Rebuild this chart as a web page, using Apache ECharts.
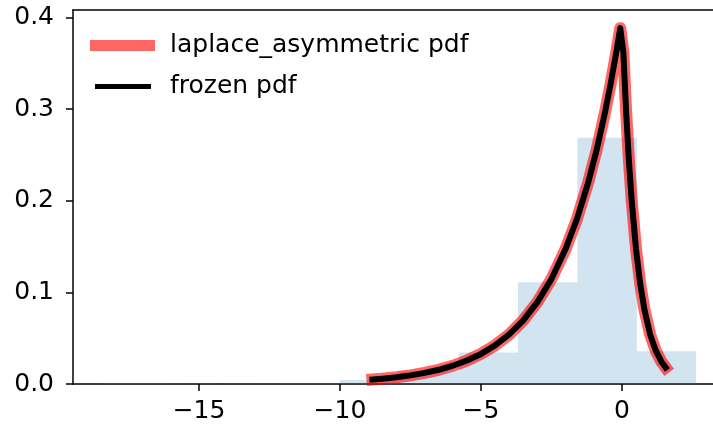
<!DOCTYPE html>
<html lang="en">

<head>
    <meta charset="UTF-8">
    <title>laplace_asymmetric pdf</title>
    <style>
        html, body { margin: 0; padding: 0; background: #fff; }
        #chart { width: 713px; height: 426px; }
    </style>
</head>

<body>
    <div id="chart"></div>
</body>
<script src="https://cdn.jsdelivr.net/npm/echarts@6/dist/echarts.min.js"></script>
<script type="text/javascript">
    // pdf curve
    var curveX = [-8.85, -8.5, -8.0, -7.5, -7.0, -6.5, -6.0, -5.5, -5.0, -4.5, -4.0, -3.5, -3.0, -2.5, -2.0, -1.6, -1.2, -0.9, -0.6, -0.4, -0.2, -0.06,
        0.05, 0.15, 0.25, 0.35, 0.5, 0.65, 0.8, 1.0, 1.2, 1.4, 1.55];
    var curveY = [0.0048, 0.0057, 0.0073, 0.0094, 0.0121, 0.0155, 0.0199, 0.0256, 0.0328, 0.0422, 0.0541, 0.0695, 0.0893, 0.1146, 0.1472, 0.1797, 0.2195, 0.2550, 0.2963, 0.3275, 0.3619, 0.3882,
        0.3619, 0.2963, 0.2426, 0.1986, 0.1472, 0.1090, 0.0808, 0.0541, 0.0363, 0.0243, 0.0180];

    // histogram (density), bin edges + heights
    var binEdges = [-18.42, -16.32, -14.21, -12.11, -10.00, -7.90, -5.79, -3.69, -1.58, 0.53, 2.63];
    var binDensity = [0.0005, 0, 0.0005, 0.0010, 0.0044, 0.0140, 0.0345, 0.1110, 0.2686, 0.0356];

    var xTicks = [-15, -10, -5, 0];
    var yTicks = [0, 0.1, 0.2, 0.3, 0.4];

    var FONT = 'DejaVu Sans';
    var FS = 25;

    var curve = curveX.map(function (x, i) { return [x, curveY[i]]; });
    var hist = binDensity.map(function (d, i) { return [binEdges[i], d]; });
    hist.push([binEdges[binEdges.length - 1], binDensity[binDensity.length - 1]]);

    var myChart = echarts.init(document.getElementById('chart'));

    // the right spine sits just past the picture edge, so the axis stops at 3.23
    myChart.setOption({
        animation: false,
        grid: {
            left: 73,
            top: 10,
            right: 0,
            bottom: 42
        },
        legend: [{
            data: [{ name: 'laplace_asymmetric pdf', icon: 'rect', itemStyle: { color: 'rgba(255,0,0,0.6)' } }],
            left: 90,
            top: 33,
            padding: 0,
            itemWidth: 65,
            itemHeight: 11,
            selectedMode: false,
            textStyle: { fontFamily: FONT, fontSize: FS, color: '#000', padding: [0, 0, 0, 10] }
        }, {
            data: [{ name: 'frozen pdf', icon: 'rect', itemStyle: { color: '#000' } }],
            left: 95,
            top: 74,
            padding: 0,
            itemWidth: 56,
            itemHeight: 5,
            selectedMode: false,
            textStyle: { fontFamily: FONT, fontSize: FS, color: '#000', padding: [0, 0, 0, 14] }
        }],
        xAxis: [{
            type: 'value',
            min: -19.47,
            max: 3.23,
            axisLine: { show: true, onZero: false, lineStyle: { color: '#000', width: 1.5 } },
            axisTick: { show: true, length: 7, customValues: xTicks, lineStyle: { color: '#000', width: 1.5 } },
            axisLabel: {
                customValues: xTicks,
                margin: 15,
                fontFamily: FONT,
                fontSize: FS,
                color: '#000',
                formatter: function (v) { return String(v).replace('-', '\u2212'); }
            },
            splitLine: { show: false }
        }, {
            // top spine only
            type: 'value',
            position: 'top',
            min: -19.47,
            max: 3.23,
            axisLine: { show: true, onZero: false, lineStyle: { color: '#000', width: 1.5 } },
            axisTick: { show: false },
            axisLabel: { show: false },
            splitLine: { show: false }
        }],
        yAxis: {
            type: 'value',
            min: 0,
            max: 0.408,
            axisLine: { show: true, onZero: false, lineStyle: { color: '#000', width: 1.5 } },
            axisTick: { show: true, length: 7, customValues: yTicks, lineStyle: { color: '#000', width: 1.5 } },
            axisLabel: {
                customValues: yTicks,
                margin: 19,
                fontFamily: FONT,
                fontSize: FS,
                color: '#000',
                formatter: function (v) { return v.toFixed(1); }
            },
            splitLine: { show: false }
        },
        series: [{
            name: 'hist',
            type: 'line',
            step: 'end',
            data: hist,
            showSymbol: false,
            silent: true,
            z: 1,
            lineStyle: { width: 0, opacity: 0 },
            areaStyle: { color: 'rgba(31,119,180,0.2)', opacity: 1 }
        }, {
            name: 'laplace_asymmetric pdf',
            type: 'line',
            data: curve,
            showSymbol: false,
            silent: true,
            z: 2,
            color: 'rgba(255,0,0,0.6)',
            lineStyle: { color: 'rgba(255,0,0,0.6)', width: 12, cap: 'square', join: 'round' }
        }, {
            name: 'frozen pdf',
            type: 'line',
            data: curve,
            showSymbol: false,
            silent: true,
            z: 3,
            color: '#000',
            lineStyle: { color: '#000', width: 6, cap: 'square', join: 'round' }
        }]
    });
</script>

</html>
